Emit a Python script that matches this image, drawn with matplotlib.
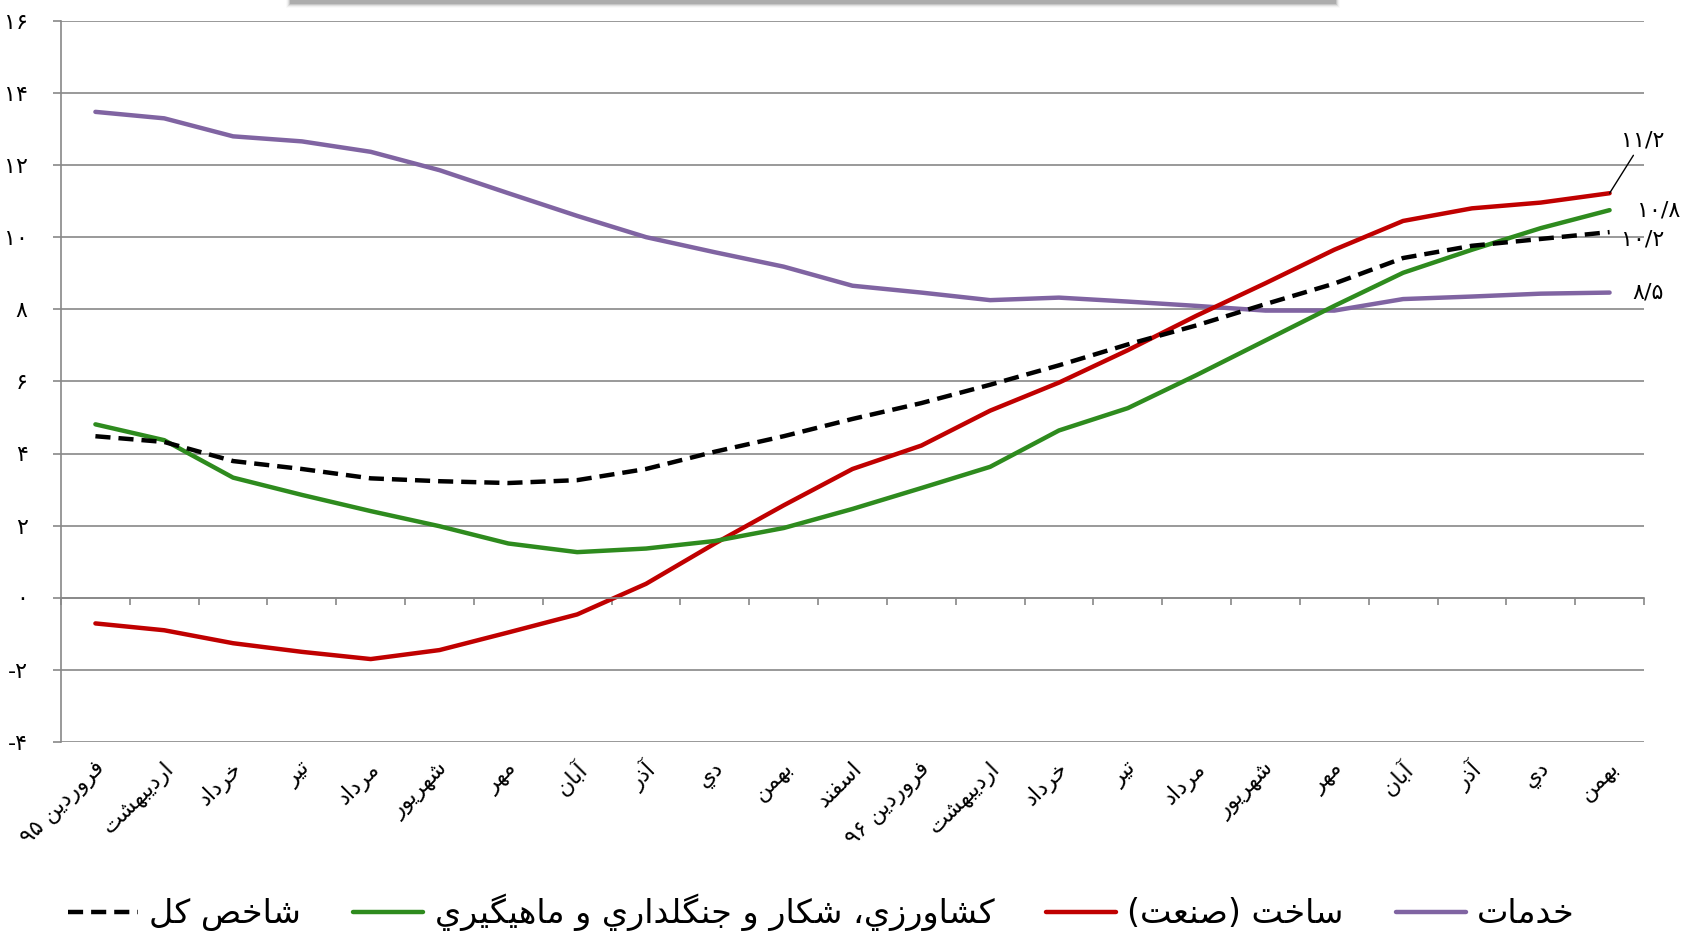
import re
import numpy as np
import matplotlib
matplotlib.use('Agg')
import matplotlib.pyplot as plt
import matplotlib.transforms as mtrans
from matplotlib.patches import Rectangle

plt.rcParams['font.family'] = ['DejaVu Sans']

months = ['فروردين ۹۵', 'ارديبهشت', 'خرداد', 'تير', 'مرداد', 'شهريور', 'مهر',
          'آبان', 'آذر', 'دي', 'بهمن', 'اسفند', 'فروردين ۹۶', 'ارديبهشت', 'خرداد',
          'تير', 'مرداد', 'شهريور', 'مهر', 'آبان', 'آذر', 'دي', 'بهمن']

total = [4.48, 4.32, 3.79, 3.57, 3.31, 3.23, 3.18, 3.26, 3.57, 4.05, 4.48, 4.96,
         5.40, 5.91, 6.45, 7.03, 7.56, 8.15, 8.72, 9.43, 9.77, 9.96, 10.15]
agri = [4.81, 4.37, 3.33, 2.85, 2.40, 1.98, 1.50, 1.26, 1.36, 1.57, 1.93, 2.46,
        3.04, 3.63, 4.64, 5.26, 6.18, 7.14, 8.10, 9.02, 9.66, 10.26, 10.76]
industry = [-0.72, -0.91, -1.27, -1.51, -1.71, -1.46, -0.97, -0.47, 0.38, 1.50, 2.56, 3.57,
            4.22, 5.19, 5.97, 6.87, 7.83, 8.73, 9.66, 10.46, 10.81, 10.97, 11.23]
services = [13.49, 13.31, 12.81, 12.67, 12.38, 11.87, 11.23, 10.60, 10.01, 9.59, 9.19, 8.66,
            8.47, 8.26, 8.33, 8.22, 8.10, 7.97, 7.97, 8.29, 8.36, 8.44, 8.47]

series_names = ['شاخص كل', 'كشاورزي، شكار و جنگلداري و ماهيگيري', 'ساخت (صنعت)', 'خدمات']
end_labels = ['۱۰/۲', '۱۰/۸', '۱۱/۲', '۸/۵']
yticks = [-4, -2, 0, 2, 4, 6, 8, 10, 12, 14, 16]
ytick_labels = ['-۴', '-۲', '۰', '۲', '۴', '۶', '۸', '۱۰', '۱۲', '۱۴', '۱۶']

# crude arabic shaping: presentation forms + visual order
DUAL = {'ب': 0xFE8F, 'ت': 0xFE95, 'ث': 0xFE99, 'ج': 0xFE9D, 'ح': 0xFEA1, 'خ': 0xFEA5,
        'س': 0xFEB1, 'ش': 0xFEB5, 'ص': 0xFEB9, 'ض': 0xFEBD, 'ط': 0xFEC1, 'ظ': 0xFEC5,
        'ع': 0xFEC9, 'غ': 0xFECD, 'ف': 0xFED1, 'ق': 0xFED5, 'ك': 0xFED9, 'ل': 0xFEDD,
        'م': 0xFEE1, 'ن': 0xFEE5, 'ه': 0xFEE9, 'ي': 0xFEF1, 'پ': 0xFB56, 'چ': 0xFB7A,
        'ک': 0xFB8E, 'گ': 0xFB92, 'ی': 0xFBFC, 'ئ': 0xFE89}
RIGHT = {'ا': 0xFE8D, 'آ': 0xFE81, 'أ': 0xFE83, 'إ': 0xFE87, 'د': 0xFEA9, 'ذ': 0xFEAB,
         'ر': 0xFEAD, 'ز': 0xFEAF, 'و': 0xFEED, 'ژ': 0xFB8A, 'ة': 0xFE93, 'ؤ': 0xFE85}


def shape(s):
    out = []
    for i, c in enumerate(s):
        base = DUAL.get(c, RIGHT.get(c))
        if base is None:
            out.append(c)
            continue
        prev = s[i - 1] if i > 0 else ''
        nxt = s[i + 1] if i < len(s) - 1 else ''
        jp = prev in DUAL
        jn = c in DUAL and (nxt in DUAL or nxt in RIGHT)
        form = 3 if (jp and jn) else 2 if jn else 1 if jp else 0
        out.append(chr(base + form))
    vis = ''.join(out)[::-1]
    vis = re.sub(r'[0-9۰-۹/]+', lambda m: m.group()[::-1], vis)
    return vis.translate(str.maketrans('()', ')('))


fig = plt.figure(figsize=(16.83, 9.36), dpi=100)
ax = fig.add_axes([61 / 1683, 1 - 741.5 / 936, (1644 - 61) / 1683, 720 / 936])

x = np.arange(len(months))
grid_c = '#888888'
ax.plot(x, services, color='#8064A2', lw=3.2, solid_capstyle='round', label=shape(series_names[3]))
ax.plot(x, industry, color='#C00000', lw=3.2, solid_capstyle='round', label=shape(series_names[2]))
ax.plot(x, agri, color='#2E8B1E', lw=3.2, solid_capstyle='round', label=shape(series_names[1]))
ax.plot(x, total, color='black', lw=3.2, ls=(0, (3.4, 1.8)), label=shape(series_names[0]))

ax.set_xlim(-0.5, len(months) - 0.5)
ax.set_ylim(-4, 16)
ax.set_yticks(yticks)
ax.set_yticklabels(ytick_labels, fontsize=16)
ax.yaxis.grid(True, color=grid_c, lw=1.2)
ax.set_axisbelow(True)
ax.tick_params(axis='y', length=6, color=grid_c, width=1.2, pad=18)

ax.set_xticks(np.arange(len(months) + 1) - 0.5)
ax.set_xticklabels([])
ax.tick_params(axis='x', length=5, color=grid_c, width=1.2, direction='out')
ax.spines['bottom'].set_position(('data', 0))
ax.spines['bottom'].set_color(grid_c)
ax.spines['bottom'].set_linewidth(1.2)
ax.spines['left'].set_color(grid_c)
ax.spines['left'].set_linewidth(1.2)
ax.spines['top'].set_visible(False)
ax.spines['right'].set_visible(False)

# month labels under the plot area
lab_tr = mtrans.offset_copy(ax.get_xaxis_transform(), fig=fig, x=6, y=-24, units='dots')
for i, m in enumerate(months):
    ax.text(i, 0, shape(m), transform=lab_tr, rotation=45, rotation_mode='anchor',
            ha='right', va='center', fontsize=16, clip_on=False)

# end value labels
last = len(months) - 1
ax.annotate(end_labels[2], (last, industry[-1]), xytext=(24, 31), textcoords='offset points',
            fontsize=16, ha='center', va='bottom', annotation_clip=False,
            arrowprops=dict(arrowstyle='-', color='black', lw=1, shrinkA=2, shrinkB=0))
ax.annotate(end_labels[1], (last, agri[-1]), xytext=(35, 0), textcoords='offset points',
            fontsize=16, ha='center', va='center', annotation_clip=False)
ax.annotate(end_labels[0], (last, total[-1]), xytext=(24, -5), textcoords='offset points',
            fontsize=16, ha='center', va='center', annotation_clip=False)
ax.annotate(end_labels[3], (last, services[-1]), xytext=(28, 0), textcoords='offset points',
            fontsize=16, ha='center', va='center', annotation_clip=False)

h, l = ax.get_legend_handles_labels()
order = [3, 2, 1, 0]
fig.legend([h[k] for k in order], [l[k] for k in order], loc='center', ncol=4,
           bbox_to_anchor=(0.488, 0.025), frameon=False, fontsize=24,
           handlelength=2.1, handletextpad=0.35, columnspacing=1.55)

# shadow of a box cut off at the top
for k, a in enumerate([0.35, 0.25, 0.15, 0.08, 0.04]):
    fig.patches.append(Rectangle((290 - k, 936 - 4 - k), 1046 + 2 * k, 4 + k,
                                 transform=None, color='#808080', alpha=a, lw=0))

fig.savefig('out.png', dpi=100)
